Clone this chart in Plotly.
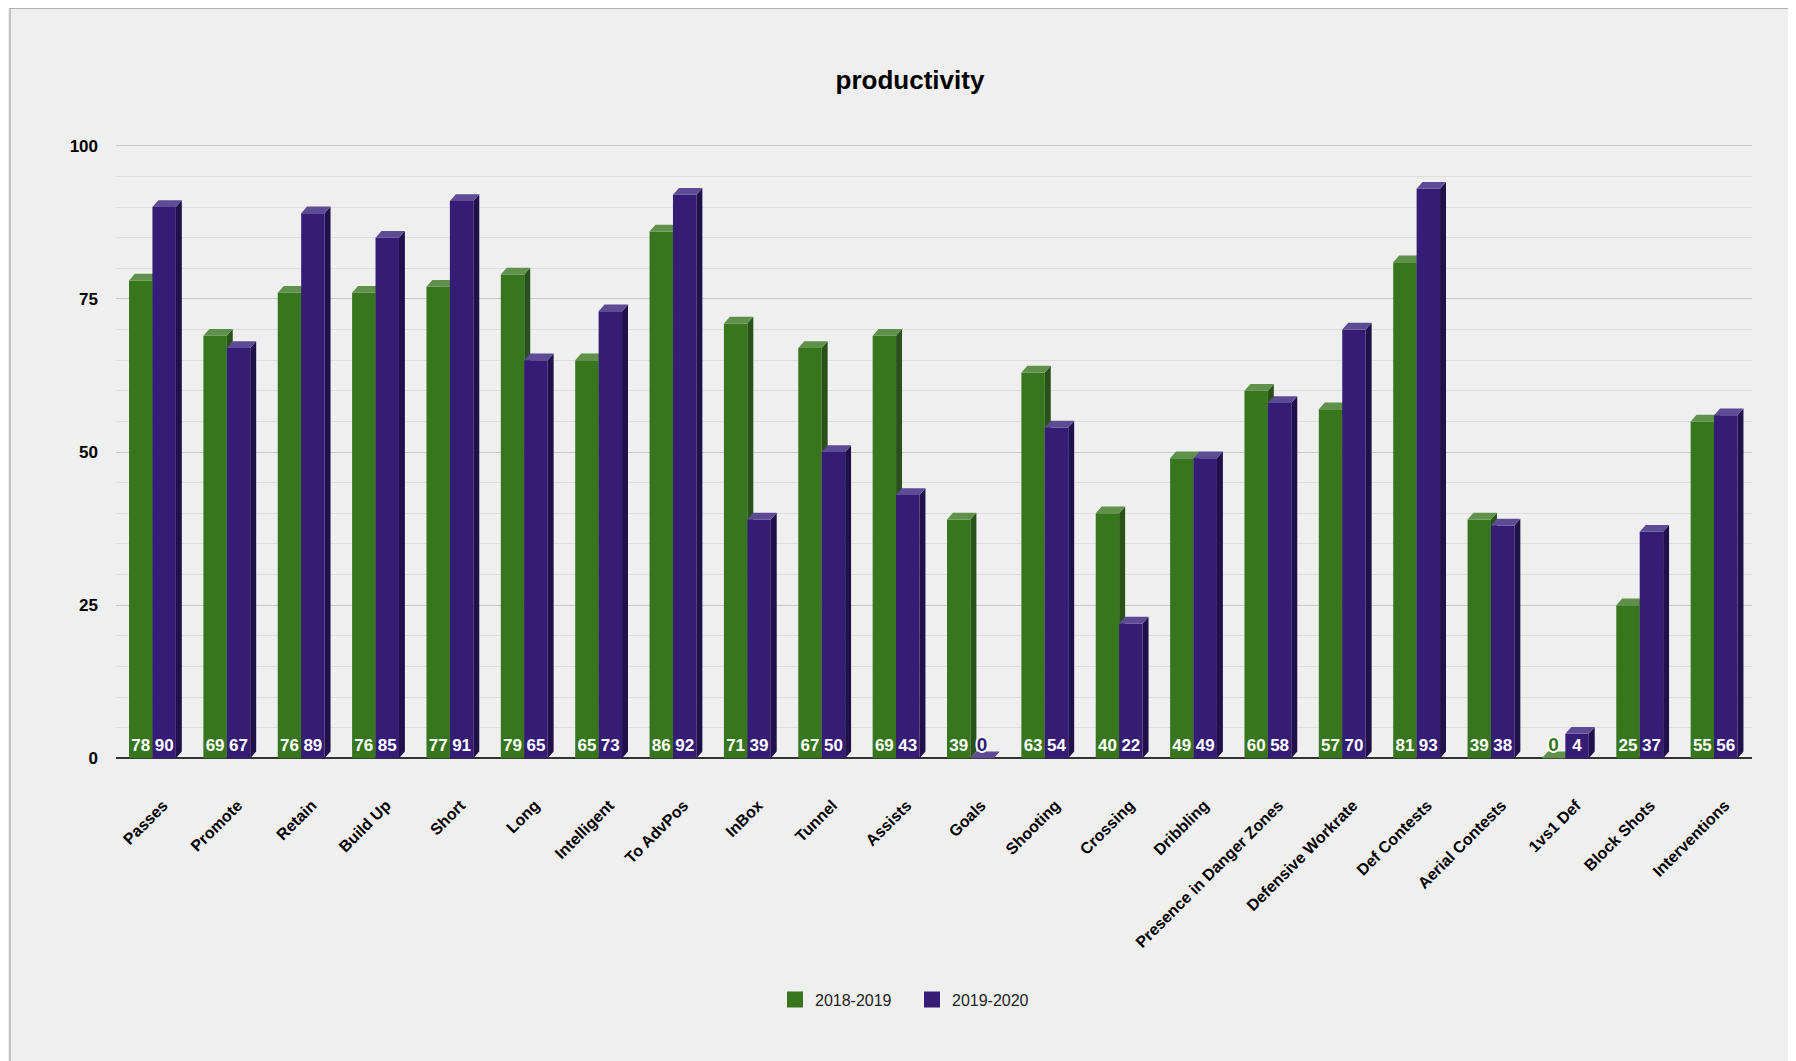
import numpy as np
import plotly.graph_objects as go

categories = ["Passes", "Promote", "Retain", "Build Up", "Short", "Long", "Intelligent",
              "To AdvPos", "InBox", "Tunnel", "Assists", "Goals", "Shooting", "Crossing",
              "Dribbling", "Presence in Danger Zones", "Defensive Workrate", "Def Contests",
              "Aerial Contests", "1vs1 Def", "Block Shots", "Interventions"]
season_2018_2019 = [78, 69, 76, 76, 77, 79, 65, 86, 71, 67, 69, 39, 63, 40, 49, 60, 57, 81, 39, 0, 25, 55]
season_2019_2020 = [90, 67, 89, 85, 91, 65, 73, 92, 39, 50, 43, 0, 54, 22, 49, 58, 70, 93, 38, 4, 37, 56]
series_names = ["2018-2019", "2019-2020"]
y_ticks = [0, 25, 50, 75, 100]

FONT = "Liberation Sans, Arial, sans-serif"
W = 0.315      # bar width (category units)
D = 0.08       # 3D depth in x (category units)
DY = 1.1       # 3D depth in y (value units)
LABEL_Y = 1.9

styles = [
    dict(off=-0.325, front="#38761d", top="#5f914b", side="#28521a"),
    dict(off=-0.010, front="#351c75", top="#5e4b95", side="#21114a"),
]

xs = np.arange(len(categories))
fig = go.Figure()

z = 0
for name, vals, st in zip(series_names, [season_2018_2019, season_2019_2020], styles):
    fig.add_trace(go.Bar(
        x=xs, y=vals, base=0, width=W, offset=st["off"],
        marker=dict(color=st["front"], line=dict(width=0)),
        name=name, showlegend=False, zorder=z))
    tx, ty, sx, sy = [], [], [], []
    for i, v in enumerate(vals):
        x0 = i + st["off"]
        x1 = x0 + W
        tx += [x0, x0 + D, x1 + D, x1, x0, None]
        ty += [v, v + DY, v + DY, v, v, None]
        sx += [x1, x1 + D, x1 + D, x1, x1, None]
        sy += [0, DY, v + DY, v, 0, None]
    fig.add_trace(go.Scatter(x=sx, y=sy, mode="lines", fill="toself", fillcolor=st["side"],
                             line=dict(width=0, color=st["side"]), showlegend=False,
                             hoverinfo="skip", zorder=z + 1))
    fig.add_trace(go.Scatter(x=tx, y=ty, mode="lines", fill="toself", fillcolor=st["top"],
                             line=dict(width=0, color=st["top"]), showlegend=False,
                             hoverinfo="skip", zorder=z + 1))
    z += 2

# value labels
OUTLINE = ("1px 1px 0 white, -1px -1px 0 white, 1px -1px 0 white, -1px 1px 0 white, "
           "2px 0 0 white, -2px 0 0 white, 0 2px 0 white, 0 -2px 0 white")
for name, vals, st in zip(series_names, [season_2018_2019, season_2019_2020], styles):
    lx = [i + st["off"] + W / 2 for i in range(len(vals))]
    nz = [(x, v) for x, v in zip(lx, vals) if v != 0]
    zz = [(x, v) for x, v in zip(lx, vals) if v == 0]
    if nz:
        fig.add_trace(go.Scatter(
            x=[a for a, _ in nz], y=[LABEL_Y] * len(nz), mode="text",
            text=[str(b) for _, b in nz], textposition="middle center",
            textfont=dict(family=FONT, size=17, color="white", weight="bold"),
            showlegend=False, hoverinfo="skip", zorder=10))
    if zz:
        fig.add_trace(go.Scatter(
            x=[a for a, _ in zz], y=[LABEL_Y] * len(zz), mode="text",
            text=[str(b) for _, b in zz], textposition="middle center",
            textfont=dict(family=FONT, size=19, color=st["front"], weight="bold",
                          shadow=OUTLINE),
            showlegend=False, hoverinfo="skip", zorder=10))

# legend entries
for name, st in zip(series_names, styles):
    fig.add_trace(go.Scatter(x=[None], y=[None], mode="markers", name=name,
                             marker=dict(symbol="square", size=18, color=st["front"]),
                             showlegend=True))

FW, FH = 1788, 1053
L, R = 108, 44
ymin, ymax = -0.6, 100.3
T = 138 - (ymax - 100) * 6.12
plot_h = (ymax - ymin) * 6.12
B = FH - T - plot_h
plot_w = FW - L - R
zero_px = T + ymax * 6.12  # pixel row of value 0

fig.update_layout(
    width=FW, height=FH,
    margin=dict(l=L, r=R, t=T, b=B, autoexpand=False),
    paper_bgcolor="#efefef", plot_bgcolor="#efefef",
    barmode="overlay",
    title=dict(text="productivity", x=(902 - L) / plot_w, xref="paper",
               xanchor="center", y=1 - 72 / FH, yanchor="middle",
               font=dict(family=FONT, size=26, color="#000", weight="bold")),
    legend=dict(orientation="h", x=(904 - L) / plot_w, xanchor="center",
                y=-(991 - (T + plot_h)) / plot_h,
                yanchor="middle", font=dict(family=FONT, size=16, color="#222"),
                bgcolor="rgba(0,0,0,0)", itemwidth=30,
                entrywidthmode="pixels", entrywidth=92),
    xaxis=dict(range=[-0.5, len(categories) - 0.5], tickvals=list(xs), ticktext=categories,
               tickangle=-45, showgrid=False, zeroline=False, showline=False, ticks="",
               tickfont=dict(family=FONT, size=16, color="#000", weight="bold"),
               ticklabelstandoff=30, ticklabelshift=10),
    yaxis=dict(range=[ymin, ymax], tickvals=y_ticks, showgrid=True, gridcolor="#c8c8c8",
               gridwidth=1.2, zeroline=True, zerolinecolor="#333333", zerolinewidth=1.5,
               showline=False, ticks="",
               tickfont=dict(family=FONT, size=17, color="#000", weight="bold"),
               ticklabelstandoff=17,
               minor=dict(dtick=5, tick0=0, showgrid=True, gridcolor="#dedede", gridwidth=1, ticks="")),
    shapes=[dict(type="rect", xref="paper", yref="paper",
                 x0=(2 - L) / plot_w, x1=1.2,
                 y0=-1.0, y1=1 + (T - 0.5) / plot_h,
                 line=dict(color="#999999", width=1), fillcolor="rgba(0,0,0,0)", layer="below")],
)

fig.write_html("out.html")
